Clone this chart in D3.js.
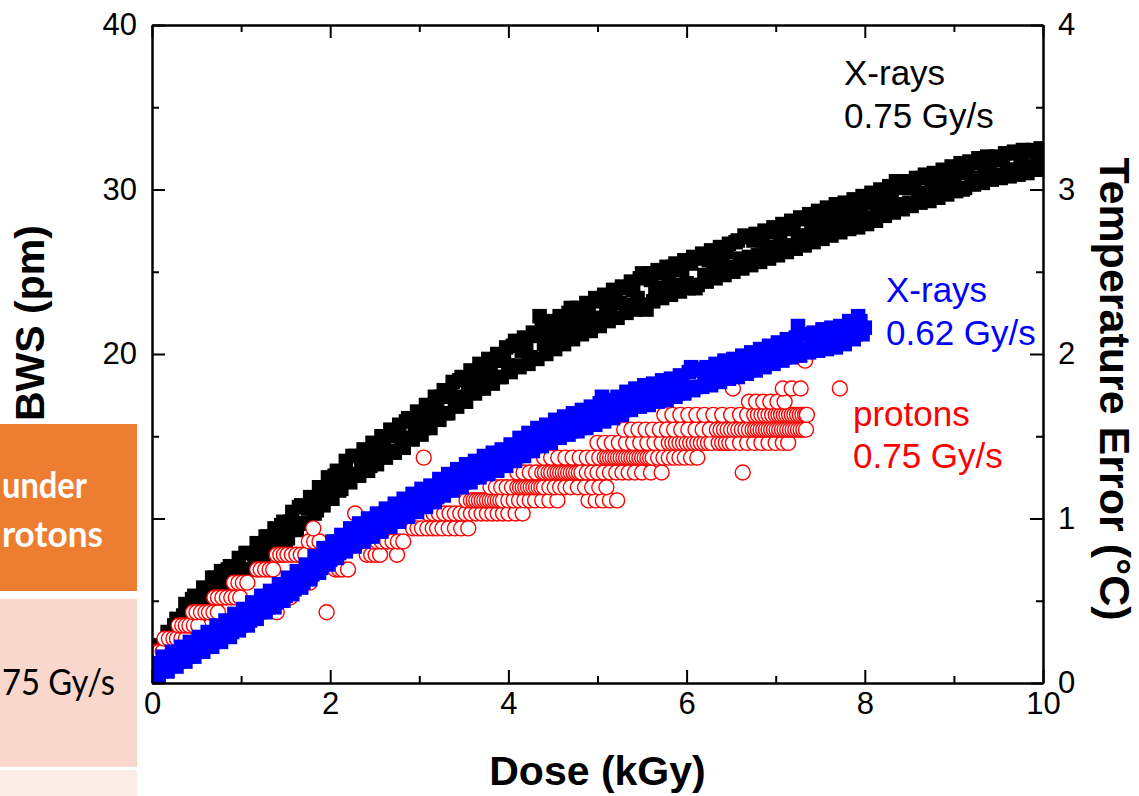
<!DOCTYPE html>
<html><head><meta charset="utf-8">
<script src="https://cdn.jsdelivr.net/npm/d3@7/dist/d3.min.js"></script>
<style>body{margin:0;background:#fff;}svg{display:block;}</style>
</head><body>
<svg id="chart" width="1139" height="796"></svg>
<script>
// X-rays 0.75 Gy/s : [dose kGy, BWS pm]
const xray075 = [[0,1.3],[0.05,1.0],[0.1,2.3],[0.15,2.0],[0.2,2.6],[0.25,3.5],[0.3,3.0],[0.35,4.1],[0.4,3.9],[0.45,5.1],
[0.5,4.4],[0.55,5.1],[0.6,5.6],[0.65,5.1],[0.7,6.4],[0.75,5.8],[0.8,6.2],[0.85,6.9],[0.9,6.0],[0.95,7.0],
[1.0,6.7],[1.05,7.9],[1.1,6.9],[1.15,7.8],[1.2,8.3],[1.25,7.7],[1.3,8.9],[1.35,8.4],[1.4,8.9],[1.45,9.6],
[1.5,8.7],[1.55,9.8],[1.6,9.5],[1.65,10.7],[1.7,9.7],[1.75,10.6],[1.8,11.2],[1.85,10.5],[1.9,11.9],[1.95,11.3],
[2.0,11.8],[2.05,12.6],[2.1,11.7],[2.15,12.7],[2.2,12.5],[2.25,13.8],[2.3,12.7],[2.35,13.4],[2.4,13.9],[2.45,13.2],
[2.5,14.5],[2.55,13.8],[2.6,14.3],[2.65,15.0],[2.7,14.1],[2.75,15.1],[2.8,14.7],[2.85,15.9],[2.9,14.9],[2.95,15.7],
[3.0,16.2],[3.05,15.5],[3.1,16.8],[3.15,16.3],[3.2,16.7],[3.25,17.4],[3.3,16.4],[3.35,17.5],[3.4,17.2],[3.45,18.4],
[3.5,17.4],[3.55,18.2],[3.6,18.7],[3.65,17.9],[3.7,19.2],[3.75,18.6],[3.8,19.0],[3.85,19.6],[3.9,18.6],[3.95,19.6],
[4.0,19.3],[4.05,20.5],[4.1,19.3],[4.15,20.2],[4.2,20.6],[4.25,19.8],[4.3,21.1],[4.35,22.3],[4.4,20.6],[4.45,21.3],
[4.5,20.6],[4.55,21.8],[4.6,21.3],[4.65,21.7],[4.7,22.8],[4.75,21.5],[4.8,22.3],[4.85,21.5],[4.9,22.8],[4.95,22.1],
[5.0,23.2],[5.05,22.2],[5.1,23.0],[5.15,22.4],[5.2,23.5],[5.25,23.1],[5.3,24.0],[5.35,23.0],[5.4,23.9],[5.45,23.4],
[5.5,24.9],[5.55,22.7],[5.6,24.5],[5.65,24.0],[5.7,24.9],[5.75,24.0],[5.8,24.7],[5.85,25.3],[5.9,24.2],[5.95,25.1],
[6.0,24.3],[6.05,25.5],[6.1,24.0],[6.15,25.8],[6.2,24.8],[6.25,25.7],[6.3,25.1],[6.35,26.2],[6.4,25.5],[6.45,26.2],
[6.5,25.3],[6.55,26.8],[6.6,25.8],[6.65,27.2],[6.7,25.9],[6.75,26.9],[6.8,26.0],[6.85,26.9],[6.9,26.5],[6.95,27.4],
[7.0,26.4],[7.05,27.2],[7.1,27.6],[7.15,26.6],[7.2,27.7],[7.25,27.2],[7.3,28.2],[7.35,27.2],[7.4,27.9],[7.45,27.2],
[7.5,28.4],[7.55,27.8],[7.6,28.5],[7.65,27.7],[7.7,28.9],[7.75,28.1],[7.8,28.6],[7.85,28.0],[7.9,29.1],[7.95,28.4],
[8.0,29.2],[8.05,28.3],[8.1,29.6],[8.15,28.9],[8.2,29.5],[8.25,29.0],[8.3,29.7],[8.35,30.5],[8.4,29.1],[8.45,30.1],
[8.5,29.2],[8.55,30.2],[8.6,29.8],[8.65,30.7],[8.7,29.7],[8.75,30.4],[8.8,29.8],[8.85,30.9],[8.9,30.2],[8.95,31.0],
[9.0,30.2],[9.05,31.0],[9.1,30.0],[9.15,31.2],[9.2,30.7],[9.25,31.6],[9.3,30.7],[9.35,31.5],[9.4,31.1],[9.45,31.8],
[9.5,30.9],[9.55,31.8],[9.6,31.2],[9.65,32.2],[9.7,31.2],[9.75,32.0],[9.8,31.4],[9.85,32.3],[9.9,31.4],[9.95,32.1],[10.0,31.6],
[0.025,0.7],[0.075,2.2],[0.125,1.4],[0.175,3.1],[0.225,2.4],[0.275,3.9],[0.325,3.1],[0.375,4.8],[0.425,3.8],[0.475,5.3],
[0.525,4.2],[0.575,5.8],[0.625,4.8],[0.675,6.4],[0.725,5.4],[0.775,6.8],[0.825,5.6],[0.875,7.1],[0.925,6.2],[0.975,7.6],
[1.025,6.5],[1.075,7.9],[1.125,6.9],[1.175,8.5],[1.225,7.4],[1.275,8.9],[1.325,7.9],[1.375,9.4],[1.425,8.3],[1.475,9.8],
[1.525,8.8],[1.575,10.4],[1.625,9.3],[1.675,10.8],[1.725,9.7],[1.775,11.3],[1.825,10.3],[1.875,11.9],[1.925,10.8],[1.975,12.5],
[2.025,11.2],[2.075,12.9],[2.125,11.8],[2.175,13.5],[2.225,12.2],[2.275,13.8],[2.325,12.6],[2.375,14.2],[2.425,12.9],[2.475,14.6],
[2.525,13.3],[2.575,15.0],[2.625,13.7],[2.675,15.4],[2.725,14.0],[2.775,15.7],[2.825,14.3],[2.875,16.1],[2.925,14.8],[2.975,16.5],
[3.025,15.1],[3.075,16.9],[3.125,15.5],[3.175,17.4],[3.225,16.0],[3.275,17.8],[3.325,16.4],[3.375,18.3],[3.425,16.8],[3.475,18.6],
[3.525,17.1],[3.575,19.0],[3.625,17.6],[3.675,19.4],[3.725,17.9],[3.775,19.7],[3.825,18.2],[3.875,20.0],[3.925,18.6],[3.975,20.4],
[4.025,18.9],[4.075,20.8],[4.125,19.2],[4.175,21.0],[4.225,19.4],[4.275,21.3],[4.325,19.7],[4.375,21.7],[4.425,20.0],[4.475,22.0],
[4.525,20.3],[4.575,22.3],[4.625,20.6],[4.675,22.5],[4.725,20.9],[4.775,22.8],[4.825,21.2],[4.875,23.1],[4.925,21.4],[4.975,23.4],
[5.025,21.7],[5.075,23.6],[5.125,22.0],[5.175,23.9],[5.225,22.2],[5.275,24.1],[5.325,22.5],[5.375,24.4],[5.425,22.7],[5.475,24.6],
[5.525,23.0],[5.575,24.9],[5.625,23.2],[5.675,25.1],[5.725,23.4],[5.775,25.3],[5.825,23.6],[5.875,25.5],[5.925,23.8],[5.975,25.7],
[6.025,24.0],[6.075,25.9],[6.125,24.2],[6.175,26.1],[6.225,24.4],[6.275,26.3],[6.325,24.6],[6.375,26.5],[6.425,24.8],[6.475,26.7],
[6.525,25.0],[6.575,26.9],[6.625,25.2],[6.675,27.1],[6.725,25.4],[6.775,27.3],[6.825,25.6],[6.875,27.5],[6.925,25.8],[6.975,27.7],
[7.025,26.0],[7.075,27.9],[7.125,26.2],[7.175,28.1],[7.225,26.4],[7.275,28.3],[7.325,26.6],[7.375,28.5],[7.425,26.8],[7.475,28.7],
[7.525,27.0],[7.575,28.9],[7.625,27.2],[7.675,29.1],[7.725,27.4],[7.775,29.2],[7.825,27.6],[7.875,29.4],[7.925,27.7],[7.975,29.6],
[8.025,27.9],[8.075,29.8],[8.125,28.1],[8.175,30.0],[8.225,28.4],[8.275,30.2],[8.325,28.6],[8.375,30.3],[8.425,28.8],[8.475,30.5],
[8.525,29.0],[8.575,30.7],[8.625,29.2],[8.675,30.9],[8.725,29.3],[8.775,31.0],[8.825,29.5],[8.875,31.2],[8.925,29.7],[8.975,31.4],
[9.025,29.9],[9.075,31.6],[9.125,30.1],[9.175,31.7],[9.225,30.3],[9.275,31.9],[9.325,30.4],[9.375,32.0],[9.425,30.6],[9.475,32.0],
[9.525,30.7],[9.575,32.2],[9.625,30.8],[9.675,32.3],[9.725,30.9],[9.775,32.4],[9.825,31.0],[9.875,32.4],[9.925,31.2],[9.975,32.5]];

// X-rays 0.62 Gy/s
const xray062 = [[0,0.4],[0.05,1.1],[0.1,0.7],[0.15,1.4],[0.2,1.0],[0.25,1.8],[0.3,1.3],[0.35,2.1],[0.4,1.6],[0.45,2.3],
[0.5,1.9],[0.55,2.6],[0.6,2.2],[0.65,3.0],[0.7,2.5],[0.75,3.2],[0.8,2.8],[0.85,3.6],[0.9,3.1],[0.95,4.1],
[1.0,3.5],[1.05,4.4],[1.1,3.8],[1.15,4.7],[1.2,4.3],[1.25,5.2],[1.3,4.6],[1.35,5.5],[1.4,4.9],[1.45,5.8],
[1.5,5.3],[1.55,6.3],[1.6,5.7],[1.65,6.7],[1.7,6.1],[1.75,7.1],[1.8,6.6],[1.85,7.6],[1.9,7.0],[1.95,8.1],
[2.0,7.5],[2.05,8.6],[2.1,7.9],[2.15,8.9],[2.2,8.3],[2.25,9.2],[2.3,8.6],[2.35,9.5],[2.4,8.9],[2.45,9.8],
[2.5,9.3],[2.55,10.1],[2.6,9.5],[2.65,10.4],[2.7,9.9],[2.75,10.7],[2.8,10.1],[2.85,11.0],[2.9,10.4],[2.95,11.3],
[3.0,10.8],[3.05,11.6],[3.1,11.0],[3.15,11.9],[3.2,11.3],[3.25,12.3],[3.3,11.7],[3.35,12.6],[3.4,12.0],[3.45,12.8],
[3.5,12.2],[3.55,13.1],[3.6,12.5],[3.65,13.4],[3.7,12.8],[3.75,13.6],[3.8,13.0],[3.85,13.8],[3.9,13.2],[3.95,14.1],
[4.0,13.5],[4.05,14.4],[4.1,13.8],[4.15,14.7],[4.2,14.1],[4.25,15.0],[4.3,14.4],[4.35,15.3],[4.4,14.7],[4.45,15.5],
[4.5,15.0],[4.55,15.8],[4.6,15.1],[4.65,16.0],[4.7,15.3],[4.75,16.1],[4.8,15.5],[4.85,16.4],[4.9,15.8],[4.95,16.5],
[5.0,16.0],[5.05,17.4],[5.1,16.2],[5.15,16.9],[5.2,16.4],[5.25,17.2],[5.3,16.6],[5.35,17.5],[5.4,16.9],[5.45,17.7],
[5.5,17.0],[5.55,17.9],[5.6,17.2],[5.65,18.0],[5.7,17.3],[5.75,18.2],[5.8,17.5],[5.85,18.3],[5.9,17.6],[5.95,18.5],
[6.0,17.9],[6.05,19.2],[6.1,18.0],[6.15,19.0],[6.2,18.3],[6.25,19.0],[6.3,18.4],[6.35,19.2],[6.4,18.5],[6.45,19.4],
[6.5,18.8],[6.55,19.5],[6.6,18.9],[6.65,19.7],[6.7,19.0],[6.75,19.9],[6.8,19.3],[6.85,20.1],[6.9,19.5],[6.95,20.3],
[7.0,19.7],[7.05,20.5],[7.1,19.8],[7.15,20.7],[7.2,20.1],[7.25,21.7],[7.3,20.3],[7.35,21.2],[7.4,20.4],[7.45,21.1],
[7.5,20.5],[7.55,21.3],[7.6,20.6],[7.65,21.4],[7.7,20.8],[7.75,21.5],[7.8,21.0],[7.85,21.8],[7.9,21.2],[7.95,22.0],[8.0,21.6],
[0.025,1.2],[0.075,0.4],[0.125,1.6],[0.175,0.7],[0.225,1.9],[0.275,1.0],[0.325,2.2],[0.375,1.3],[0.425,2.5],[0.475,1.6],
[0.525,2.8],[0.575,1.9],[0.625,3.1],[0.675,2.2],[0.725,3.5],[0.775,2.5],[0.825,3.8],[0.875,2.8],[0.925,4.2],[0.975,3.2],
[1.025,4.5],[1.075,3.5],[1.125,4.9],[1.175,3.9],[1.225,5.3],[1.275,4.3],[1.325,5.6],[1.375,4.6],[1.425,6.0],[1.475,5.0],
[1.525,6.4],[1.575,5.4],[1.625,6.8],[1.675,5.8],[1.725,7.2],[1.775,6.3],[1.825,7.7],[1.875,6.7],[1.925,8.2],[1.975,7.2],
[2.025,8.6],[2.075,7.6],[2.125,9.0],[2.175,8.0],[2.225,9.4],[2.275,8.3],[2.325,9.7],[2.375,8.6],[2.425,10.0],[2.475,8.9],
[2.525,10.3],[2.575,9.2],[2.625,10.6],[2.675,9.5],[2.725,10.9],[2.775,9.8],[2.825,11.2],[2.875,10.1],[2.925,11.5],[2.975,10.4],
[3.025,11.8],[3.075,10.7],[3.125,12.0],[3.175,11.0],[3.225,12.4],[3.275,11.4],[3.325,12.7],[3.375,11.7],[3.425,13.0],[3.475,11.9],
[3.525,13.3],[3.575,12.2],[3.625,13.5],[3.675,12.5],[3.725,13.8],[3.775,12.7],[3.825,14.0],[3.875,12.9],[3.925,14.2],[3.975,13.2],
[4.025,14.5],[4.075,13.5],[4.125,14.9],[4.175,13.8],[4.225,15.2],[4.275,14.1],[4.325,15.5],[4.375,14.4],[4.425,15.7],[4.475,14.6],
[4.525,16.0],[4.575,14.9],[4.625,16.2],[4.675,15.1],[4.725,16.4],[4.775,15.3],[4.825,16.6],[4.875,15.5],[4.925,16.8],[4.975,15.7],
[5.025,17.0],[5.075,15.9],[5.125,17.2],[5.175,16.1],[5.225,17.4],[5.275,16.3],[5.325,17.7],[5.375,16.6],[5.425,17.9],[5.475,16.8],
[5.525,18.1],[5.575,16.9],[5.625,18.2],[5.675,17.1],[5.725,18.4],[5.775,17.2],[5.825,18.5],[5.875,17.4],[5.925,18.7],[5.975,17.6],
[6.025,18.9],[6.075,17.8],[6.125,19.1],[6.175,18.0],[6.225,19.2],[6.275,18.1],[6.325,19.4],[6.375,18.3],[6.425,19.6],[6.475,18.5],
[6.525,19.7],[6.575,18.6],[6.625,19.9],[6.675,18.8],[6.725,20.1],[6.775,19.0],[6.825,20.3],[6.875,19.2],[6.925,20.5],[6.975,19.4],
[7.025,20.7],[7.075,19.6],[7.125,20.9],[7.175,19.8],[7.225,21.0],[7.275,19.9],[7.325,21.2],[7.375,20.1],[7.425,21.3],[7.475,20.2],
[7.525,21.5],[7.575,20.3],[7.625,21.6],[7.675,20.4],[7.725,21.7],[7.775,20.6],[7.825,22.0],[7.875,20.9],[7.925,22.3],[7.975,21.2]];

// protons 0.75 Gy/s (quantized readings)
const protons075 = [
[0,1.9],[0.04,1.9],[0.08,1.9],[0.12,1.9],
[0.14,2.7],[0.19,2.7],[0.24,2.7],[0.28,2.7],[0.33,2.7],[0.38,2.7],
[0.3,3.5],[0.34,3.5],[0.38,3.5],[0.42,3.5],[0.47,3.5],[0.52,3.5],
[0.46,4.3],[0.5,4.3],[0.55,4.3],[0.6,4.3],[0.64,4.3],[0.69,4.3],[0.74,4.3],[1.4,4.3],[1.96,4.3],
[0.7,5.2],[0.74,5.2],[0.79,5.2],[0.84,5.2],[0.89,5.2],[0.94,5.2],[0.99,5.2],[1.5,5.2],[1.55,5.2],
[0.92,6.1],[0.97,6.1],[1.02,6.1],[1.07,6.1],[1.7,6.1],[1.77,6.1],
[1.18,6.9],[1.22,6.9],[1.27,6.9],[1.32,6.9],[1.36,6.9],[2.06,6.9],[2.1,6.9],[2.14,6.9],[2.2,6.9],
[1.4,7.8],[1.44,7.8],[1.48,7.8],[1.52,7.8],[1.57,7.8],[1.62,7.8],[1.67,7.8],[1.72,7.8],[2.41,7.8],[2.46,7.8],[2.51,7.8],[2.56,7.8],[2.75,7.8],
[1.76,8.6],[1.82,8.6],[1.88,8.6],[2.48,8.6],[2.53,8.6],[2.58,8.6],[2.64,8.6],[2.7,8.6],[2.76,8.6],[2.82,8.6],
[1.81,9.4],[2.93,9.4],[2.98,9.4],[3.03,9.4],[3.09,9.4],[3.15,9.4],[3.2,9.4],[3.26,9.4],[3.33,9.4],[3.4,9.4],[3.47,9.4],[3.55,9.4],
[2.28,10.3],[3.1,10.3],[3.16,10.3],[3.22,10.3],[3.28,10.3],[3.34,10.3],[3.4,10.3],[3.46,10.3],[3.52,10.3],[3.58,10.3],[3.64,10.3],[3.7,10.3],[3.76,10.3],[3.82,10.3],[3.88,10.3],[3.94,10.3],[4.0,10.3],[4.08,10.3],[4.16,10.3],
[3.53,11.1],[3.58,11.1],[3.61,11.1],[3.64,11.1],[3.67,11.1],[3.7,11.1],[3.73,11.1],[3.76,11.1],[3.79,11.1],[3.82,11.1],[3.85,11.1],[3.88,11.1],[3.91,11.1],[3.94,11.1],[4.0,11.1],[4.06,11.1],[4.12,11.1],[4.18,11.1],[4.24,11.1],[4.3,11.1],[4.38,11.1],[4.46,11.1],[4.55,11.1],[4.9,11.1],[4.98,11.1],[5.06,11.1],[5.14,11.1],[5.22,11.1],
[3.8,11.9],[3.86,11.9],[3.92,11.9],[3.98,11.9],[4.04,11.9],[4.1,11.9],[4.13,11.9],[4.16,11.9],[4.19,11.9],[4.22,11.9],[4.25,11.9],[4.28,11.9],[4.31,11.9],[4.34,11.9],[4.37,11.9],[4.4,11.9],[4.46,11.9],[4.52,11.9],[4.58,11.9],[4.64,11.9],[4.7,11.9],[4.78,11.9],[4.86,11.9],[4.94,11.9],[5.02,11.9],[5.1,11.9],
[4.1,12.8],[4.17,12.8],[4.24,12.8],[4.31,12.8],[4.38,12.8],[4.41,12.8],[4.45,12.8],[4.48,12.8],[4.52,12.8],[4.55,12.8],[4.58,12.8],[4.61,12.8],[4.64,12.8],[4.67,12.8],[4.7,12.8],[4.73,12.8],[4.76,12.8],[4.79,12.8],[4.82,12.8],[4.88,12.8],[4.94,12.8],[5.0,12.8],[5.07,12.8],[5.14,12.8],[5.21,12.8],[5.28,12.8],[5.35,12.8],[5.42,12.8],[5.5,12.8],[5.6,12.8],[5.72,12.8],[6.63,12.8],
[3.05,13.7],[4.4,13.7],[4.48,13.7],[4.56,13.7],[4.64,13.7],[4.72,13.7],[4.8,13.7],[4.88,13.7],[4.95,13.7],[5.02,13.7],[5.08,13.7],[5.11,13.7],[5.14,13.7],[5.17,13.7],[5.2,13.7],[5.23,13.7],[5.26,13.7],[5.29,13.7],[5.32,13.7],[5.35,13.7],[5.38,13.7],[5.41,13.7],[5.44,13.7],[5.47,13.7],[5.5,13.7],[5.53,13.7],[5.56,13.7],[5.59,13.7],[5.62,13.7],[5.68,13.7],[5.74,13.7],[5.8,13.7],[5.86,13.7],[5.92,13.7],[5.98,13.7],[6.05,13.7],[6.12,13.7],
[5.0,14.6],[5.08,14.6],[5.16,14.6],[5.24,14.6],[5.32,14.6],[5.4,14.6],[5.48,14.6],[5.56,14.6],[5.64,14.6],[5.72,14.6],[5.8,14.6],[5.84,14.6],[5.88,14.6],[5.92,14.6],[5.96,14.6],[6.0,14.6],[6.04,14.6],[6.08,14.6],[6.12,14.6],[6.16,14.6],[6.2,14.6],[6.24,14.6],[6.28,14.6],[6.36,14.6],[6.4,14.6],[6.44,14.6],[6.48,14.6],[6.52,14.6],[6.6,14.6],[6.68,14.6],[6.76,14.6],[6.84,14.6],[6.92,14.6],[7.0,14.6],[7.08,14.6],[7.14,14.6],
[5.3,15.4],[5.38,15.4],[5.46,15.4],[5.54,15.4],[5.62,15.4],[5.7,15.4],[5.78,15.4],[5.86,15.4],[5.94,15.4],[6.02,15.4],[6.1,15.4],[6.18,15.4],[6.26,15.4],[6.34,15.4],[6.38,15.4],[6.42,15.4],[6.46,15.4],[6.5,15.4],[6.54,15.4],[6.58,15.4],[6.62,15.4],[6.66,15.4],[6.7,15.4],[6.74,15.4],[6.77,15.4],[6.8,15.4],[6.83,15.4],[6.86,15.4],[6.89,15.4],[6.92,15.4],[6.95,15.4],[6.98,15.4],[7.01,15.4],[7.04,15.4],[7.07,15.4],[7.1,15.4],[7.13,15.4],[7.16,15.4],[7.19,15.4],[7.22,15.4],[7.25,15.4],[7.28,15.4],[7.31,15.4],[7.34,15.4],
[5.75,16.3],[5.84,16.3],[5.93,16.3],[6.02,16.3],[6.11,16.3],[6.2,16.3],[6.3,16.3],[6.4,16.3],[6.5,16.3],[6.6,16.3],[6.68,16.3],[6.76,16.3],[6.8,16.3],[6.84,16.3],[6.88,16.3],[6.92,16.3],[6.96,16.3],[7.0,16.3],[7.03,16.3],[7.06,16.3],[7.09,16.3],[7.12,16.3],[7.15,16.3],[7.18,16.3],[7.21,16.3],[7.24,16.3],[7.27,16.3],[7.3,16.3],[7.33,16.3],[7.35,16.3],
[6.7,17.1],[6.78,17.1],[6.86,17.1],[6.94,17.1],[7.02,17.1],[7.1,17.1],
[6.52,17.9],[7.08,17.9],[7.18,17.9],[7.28,17.9],[7.72,17.9],
[7.33,19.6]];

const xTicksMajor = [0,2,4,6,8,10];
const xTicksMinor = [1,3,5,7,9];
const yTicksMajor = [0,10,20,30,40];
const yTicksMinor = [5,15,25,35];
const yTickLabels = {20:"20",30:"30",40:"40"}; // 0 and 10 sit under the overlay boxes
const rTicksMajor = [0,1,2,3,4];
const rTicksMinor = [0.5,1.5,2.5,3.5];

const svg = d3.select("#chart");
const L = 152, R = 1043, T = 25, B = 683;
const x = d3.scaleLinear().domain([0,10]).range([L,R]);
const y = d3.scaleLinear().domain([0,40]).range([B,T]);
const yr = d3.scaleLinear().domain([0,4]).range([B,T]);

svg.append("defs").append("clipPath").attr("id","plotclip")
  .append("rect").attr("x",L).attr("y",T).attr("width",R-L).attr("height",B-T);

const marks = svg.append("g").attr("clip-path","url(#plotclip)");
const S = 14.5;
marks.append("g").selectAll("rect").data(xray075).join("rect")
  .attr("x",d=>x(d[0])-S/2).attr("y",d=>y(d[1])-S/2).attr("width",S).attr("height",S).attr("fill","#000");
marks.append("g").selectAll("circle").data(protons075).join("circle")
  .attr("cx",d=>x(d[0])).attr("cy",d=>y(d[1])).attr("r",7.5)
  .attr("fill","#fff").attr("stroke","#ff0000").attr("stroke-width",1.4);
marks.append("g").selectAll("rect").data(xray062).join("rect")
  .attr("x",d=>x(d[0])-S/2).attr("y",d=>y(d[1])-S/2).attr("width",S).attr("height",S).attr("fill","#0000ff");

const font = "'Liberation Sans', Arial, sans-serif";
function styleAxis(g){
  g.selectAll("path.domain").attr("stroke","#000").attr("stroke-width",2);
  g.selectAll(".tick line").attr("stroke","#000").attr("stroke-width",2);
  g.selectAll(".tick text").attr("font-family",font).attr("font-size",31).attr("fill","#000");
}
svg.append("g").attr("transform",`translate(0,${B})`)
  .call(d3.axisBottom(x).tickValues(xTicksMinor).tickSize(-7).tickSizeOuter(0).tickFormat(""))
  .call(styleAxis);
svg.append("g").attr("transform",`translate(0,${B})`)
  .call(d3.axisBottom(x).tickValues(xTicksMajor).tickSize(-13).tickSizeOuter(0).tickPadding(9).tickFormat(d3.format("d")))
  .call(styleAxis);
svg.append("g").attr("transform",`translate(0,${T})`)
  .call(d3.axisTop(x).tickValues(xTicksMinor).tickSize(-7).tickSizeOuter(0).tickFormat(""))
  .call(styleAxis);
svg.append("g").attr("transform",`translate(0,${T})`)
  .call(d3.axisTop(x).tickValues(xTicksMajor).tickSize(-13).tickSizeOuter(0).tickFormat(""))
  .call(styleAxis);
svg.append("g").attr("transform",`translate(${L},0)`)
  .call(d3.axisLeft(y).tickValues(yTicksMinor).tickSize(-7).tickSizeOuter(0).tickFormat(""))
  .call(styleAxis);
svg.append("g").attr("transform",`translate(${L},0)`)
  .call(d3.axisLeft(y).tickValues(yTicksMajor).tickSize(-13).tickSizeOuter(0).tickPadding(15).tickFormat(d=>yTickLabels[d]||""))
  .call(styleAxis);
svg.append("g").attr("transform",`translate(${R},0)`)
  .call(d3.axisRight(yr).tickValues(rTicksMinor).tickSize(-7).tickSizeOuter(0).tickFormat(""))
  .call(styleAxis);
svg.append("g").attr("transform",`translate(${R},0)`)
  .call(d3.axisRight(yr).tickValues(rTicksMajor).tickSize(-13).tickSizeOuter(0).tickPadding(15).tickFormat(d3.format("d")))
  .call(styleAxis);

svg.append("text").attr("x",(L+R)/2).attr("y",785).attr("text-anchor","middle")
  .attr("font-family",font).attr("font-weight","bold").attr("font-size",41).text("Dose (kGy)");
svg.append("text").attr("transform","translate(44,421) rotate(-90)").attr("text-anchor","start")
  .attr("font-family",font).attr("font-weight","bold").attr("font-size",41).text("BWS (pm)");
svg.append("text").attr("transform","translate(1100,389) rotate(90)").attr("text-anchor","middle")
  .attr("font-family",font).attr("font-weight","bold").attr("font-size",43).text("Temperature Error (°C)");

const ann = [
  {t:"X-rays", x:844, y:85, c:"#000"},
  {t:"0.75 Gy/s", x:844, y:128, c:"#000"},
  {t:"X-rays", x:886, y:302, c:"#0000ff"},
  {t:"0.62 Gy/s", x:886, y:345, c:"#0000ff"},
  {t:"protons", x:853, y:426, c:"#ff0000"},
  {t:"0.75 Gy/s", x:853, y:468, c:"#ff0000"}
];
svg.append("g").selectAll("text").data(ann).join("text")
  .attr("x",d=>d.x).attr("y",d=>d.y).attr("fill",d=>d.c)
  .attr("font-family",font).attr("font-size",35).text(d=>d.t);

// overlay table fragment on the left edge
const box = svg.append("g");
box.append("rect").attr("x",0).attr("y",424).attr("width",137).attr("height",167).attr("fill","#ED7D31");
box.append("rect").attr("x",0).attr("y",599).attr("width",137).attr("height",168).attr("fill","#F9D7CD");
box.append("rect").attr("x",0).attr("y",770).attr("width",137).attr("height",26).attr("fill","#FCECE8");
const boxFont = "Lato, 'Open Sans', sans-serif";
const boxTexts = [
  {t:"under", start:2, end:87, y:498, c:"#fff", w:"bold"},
  {t:"rotons", start:2, end:103, y:547, c:"#fff", w:"bold"},
  {t:"75 Gy/s", start:2, end:115, y:695, c:"#000", w:"normal"}
];
boxTexts.forEach(b=>{
  box.append("text").attr("x",b.start).attr("y",b.y).attr("fill",b.c)
    .attr("font-family",boxFont).attr("font-weight",b.w).attr("font-size",36)
    .attr("textLength",b.end-b.start).attr("lengthAdjust","spacingAndGlyphs").text(b.t);
});
</script>
</body></html>
